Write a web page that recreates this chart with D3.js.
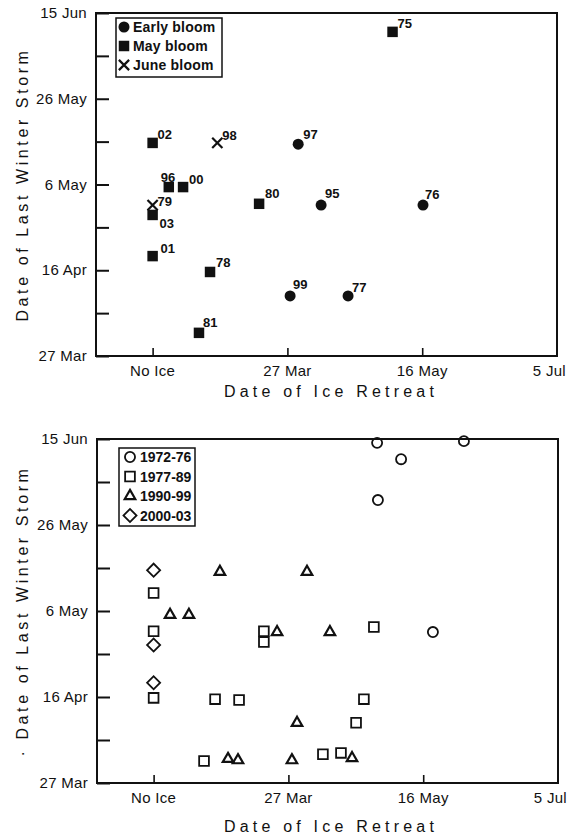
<!DOCTYPE html>
<html>
<head>
<meta charset="utf-8">
<script src="https://cdn.jsdelivr.net/npm/d3@7"></script>
<style>
    body { margin: 0; background: #fff; }
    svg { display: block; font-family: "Liberation Sans", Arial, Helvetica, sans-serif; }
</style>
</head>
<body>
<svg id="chart" width="567" height="835"></svg>
<script>
// Days counted from 27 Mar. "No Ice" years are plotted at -50.
const xTickValues = [-50, 0, 50, 100];
const xTickLabels = ["No Ice", "27 Mar", "16 May", "5 Jul"];
const yTickValues = [0, 20, 40, 60, 80];
const yTickLabels = ["27 Mar", "16 Apr", "6 May", "26 May", "15 Jun"];
const yMinorTicks = [10, 30, 50, 70];

// Top panel: bloom type, each point labelled with its year
const bloomYears   = ["75", "02", "98", "97", "96", "00", "79", "03", "80", "01", "78", "81", "99", "77", "95", "76"];
const bloomRetreat = [39, -50, -26, 4, -44, -38.7, -50, -50, -10.5, -50, -28.7, -32.8, 1, 22.5, 12.5, 50.3];
const bloomStorm   = [75.6, 49.7, 49.7, 49.4, 39.4, 39.4, 35.2, 32.9, 35.5, 23.3, 19.6, 5.4, 14, 14, 35.2, 35.2];
const bloomType    = ["May", "May", "June", "Early", "May", "May", "June", "May", "May", "May", "May", "May", "Early", "Early", "Early", "Early"];
const bloomKeys    = ["Early", "May", "June"];
const bloomNames   = ["Early bloom", "May bloom", "June bloom"];

// Bottom panel: grouped by period
const periodNames = ["1972-76", "1977-89", "1990-99", "2000-03"];
const retreat7276 = [32.9, 65.1, 41.8, 33.2, 53.6];
const storm7276   = [79.1, 79.5, 75.3, 65.8, 35.1];
const retreat7789 = [-50, -50, -50, -9.1, -9.1, -27.2, -18.3, -31.3, 31.7, 28, 25.1, 12.8, 19.5];
const storm7789   = [44.2, 35.3, 19.8, 35.3, 32.8, 19.5, 19.3, 5.1, 36.3, 19.5, 14, 6.7, 7];
const retreat9099 = [-25.4, 6.9, -43.9, -36.9, -4.2, 15.4, -22.4, -18.7, 1.3, 3.2, 23.6];
const storm9099   = [49.1, 49.1, 39.1, 39.1, 35.1, 35.1, 5.6, 5.3, 5.3, 14, 5.8];
const retreat0003 = [-50, -50, -50];
const storm0003   = [49.5, 32.1, 23.3];

const svg = d3.select("#chart");
const ink = "#111";

function drawFrame(p) {
    const g = svg.append("g");
    const x = d3.scaleLinear().domain([-71, 100]).range([p.left, p.right]);
    const y = d3.scaleLinear().domain([0, 80]).range([p.bottom, p.top]);

    // y axis: ticks pointing inward, labels on the left
    g.append("g")
        .attr("transform", `translate(${p.left},0)`)
        .call(d3.axisRight(y).tickValues(yTickValues.concat(yMinorTicks)).tickSize(13).tickFormat(""))
        .call(a => a.select(".domain").remove())
        .call(a => a.selectAll("line").attr("stroke", ink).attr("stroke-width", 2));

    g.selectAll(".ylab")
        .data(yTickValues)
        .enter().append("text")
        .attr("x", p.left - 9)
        .attr("y", d => y(d) + 5)
        .attr("text-anchor", "end")
        .attr("font-size", 15)
        .attr("letter-spacing", 0.3)
        .attr("fill", ink)
        .text((d, i) => yTickLabels[i]);

    // x axis: short ticks inward (none at the right edge)
    g.append("g")
        .attr("transform", `translate(0,${p.bottom})`)
        .call(d3.axisTop(x).tickValues(xTickValues.slice(0, 3)).tickSize(8).tickFormat(""))
        .call(a => a.select(".domain").remove())
        .call(a => a.selectAll("line").attr("stroke", ink).attr("stroke-width", 1.6));

    const last = xTickValues.length - 1;
    g.selectAll(".xlab")
        .data(xTickValues)
        .enter().append("text")
        .attr("x", (d, i) => i === last ? x(d) + 9 : x(d))
        .attr("y", p.bottom + 20)
        .attr("text-anchor", (d, i) => i === last ? "end" : "middle")
        .attr("font-size", 15)
        .attr("letter-spacing", 0.3)
        .attr("fill", ink)
        .text((d, i) => xTickLabels[i]);

    // frame
    g.append("rect")
        .attr("x", p.left).attr("y", p.top)
        .attr("width", p.right - p.left).attr("height", p.bottom - p.top)
        .attr("fill", "none").attr("stroke", ink).attr("stroke-width", 2);

    // axis titles
    g.append("text")
        .attr("transform", `translate(28,${(p.top + p.bottom) / 2}) rotate(-90)`)
        .attr("text-anchor", "middle")
        .attr("font-size", 16)
        .attr("letter-spacing", 3.6)
        .attr("fill", ink)
        .text(p.yTitle);

    g.append("text")
        .attr("x", 331)
        .attr("y", p.xTitleY)
        .attr("text-anchor", "middle")
        .attr("font-size", 16)
        .attr("letter-spacing", 4.2)
        .attr("fill", ink)
        .text("Date of Ice Retreat");

    return {x, y};
}

// ---------- top panel ----------
const topPanel = drawFrame({left: 96, right: 557, top: 13, bottom: 356, xTitleY: 397,
    yTitle: "Date of Last Winter Storm"});

const bloomSymbol = {
    Early: d3.symbol(d3.symbolCircle, 95),
    May: d3.symbol(d3.symbolSquare, 110),
    June: d3.symbol(d3.symbolTimes, 70)
};

function bloomMark(sel, type) {
    sel.attr("d", bloomSymbol[type]());
    if (type === "June") sel.attr("fill", "none").attr("stroke", ink).attr("stroke-width", 2.2);
    else sel.attr("fill", ink);
}

// label offsets from each marker (text start, baseline)
const labelOffset = {
    "75": [5, -4], "02": [5, -4], "98": [5, -3], "97": [5, -5], "96": [-8, -5], "00": [6, -3],
    "79": [5, 1], "03": [7, 13], "80": [6, -6], "01": [8, -3], "78": [6, -5], "81": [4, -6],
    "99": [3, -7], "77": [4, -4], "95": [4, -7], "76": [2, -6]
};

const bloomData = bloomYears.map((yr, i) => ({yr, rx: bloomRetreat[i], st: bloomStorm[i], type: bloomType[i]}));

const pts = svg.append("g").selectAll(".pt")
    .data(bloomData)
    .enter().append("g")
    .attr("transform", d => `translate(${topPanel.x(d.rx)},${topPanel.y(d.st)})`);

pts.append("path").each(function(d) { bloomMark(d3.select(this), d.type); });

pts.append("text")
    .attr("x", d => labelOffset[d.yr][0])
    .attr("y", d => labelOffset[d.yr][1])
    .attr("font-size", 13)
    .attr("font-weight", "bold")
    .attr("fill", ink)
    .text(d => d.yr);

// legend
const leg1 = svg.append("g");
leg1.append("rect")
    .attr("x", 116).attr("y", 18).attr("width", 106).attr("height", 59)
    .attr("fill", "#fff").attr("stroke", ink).attr("stroke-width", 1.5);
bloomKeys.forEach((k, i) => {
    const row = leg1.append("g").attr("transform", `translate(0,${27 + i * 19})`);
    row.append("path").attr("transform", "translate(124,0)").call(bloomMark, k);
    row.append("text")
        .attr("x", 133).attr("y", 5)
        .attr("font-size", 14).attr("font-weight", "bold")
        .attr("letter-spacing", 0.2)
        .attr("fill", ink)
        .text(bloomNames[i]);
});

// ---------- bottom panel ----------
const botPanel = drawFrame({left: 97, right: 558, top: 439, bottom: 783, xTitleY: 832,
    yTitle: "\u00B7 Date of Last Winter Storm"});

const periodSymbol = [
    d3.symbol(d3.symbolCircle, 80),
    d3.symbol(d3.symbolSquare, 95),
    d3.symbol(d3.symbolTriangle, 48),
    d3.symbol(d3.symbolSquare, 85)
];
const periodRotate = [0, 0, 0, 45];
const periodRetreat = [retreat7276, retreat7789, retreat9099, retreat0003];
const periodStorm = [storm7276, storm7789, storm9099, storm0003];

function periodMark(sel, i) {
    sel.attr("d", periodSymbol[i]())
        .attr("fill", "none")
        .attr("stroke", ink)
        .attr("stroke-width", i === 2 ? 2.2 : 1.8);
}

periodNames.forEach((name, i) => {
    svg.append("g").selectAll(".pp")
        .data(periodRetreat[i].map((r, j) => ({r, s: periodStorm[i][j]})))
        .enter().append("path")
        .attr("transform", d => `translate(${botPanel.x(d.r)},${botPanel.y(d.s)}) rotate(${periodRotate[i]})`)
        .call(periodMark, i);
});

const leg2 = svg.append("g");
leg2.append("rect")
    .attr("x", 119).attr("y", 448).attr("width", 76).attr("height", 78)
    .attr("fill", "#fff").attr("stroke", ink).attr("stroke-width", 1.5);
periodNames.forEach((name, i) => {
    const row = leg2.append("g").attr("transform", `translate(0,${457 + i * 19.5})`);
    row.append("path")
        .attr("transform", `translate(130,0) rotate(${periodRotate[i]})`)
        .call(periodMark, i);
    row.append("text")
        .attr("x", 140).attr("y", 5)
        .attr("font-size", 14).attr("font-weight", "bold")
        .attr("fill", ink)
        .text(name);
});
</script>
</body>
</html>
